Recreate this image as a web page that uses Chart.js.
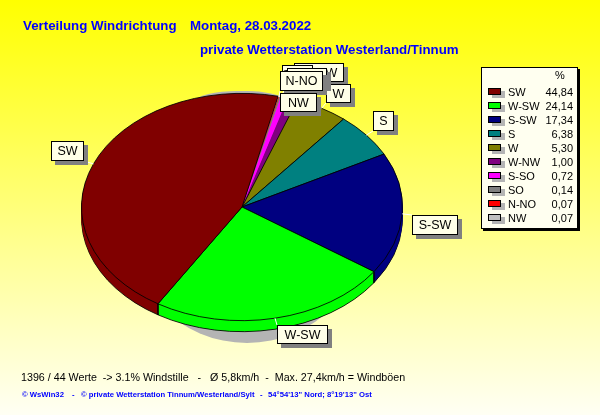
<!DOCTYPE html>
<html>
<head>
<meta charset="utf-8">
<style>
  html, body { margin: 0; padding: 0; background: #fff; }
  canvas { display: block; }
</style>
<script src="https://cdn.jsdelivr.net/npm/chart.js@4"></script>
</head>
<body>
<canvas id="wind-chart" width="600" height="415"></canvas>
<script>
// Chart data, in legend order
const directions = ['SW', 'W-SW', 'S-SW', 'S', 'W', 'W-NW', 'S-SO', 'SO', 'N-NO', 'NW'];
const percentages = [44.84, 24.14, 17.34, 6.38, 5.30, 1.00, 0.72, 0.14, 0.07, 0.07];
const percentLabels = ['44,84', '24,14', '17,34', '6,38', '5,30', '1,00', '0,72', '0,14', '0,07', '0,07'];
const sliceColors = ['#800000', '#00ff00', '#000080', '#008080', '#808000', '#800080', '#ff00ff', '#808080', '#ff0000', '#c0c0c0'];
// the thin slices would be all black with an outline
const sliceBorders = [1, 1, 1, 1, 1, 0, 0, 0, 0, 0];

// Texts
const titleLeft = 'Verteilung Windrichtung';
const titleDate = 'Montag, 28.03.2022';
const titleLine2 = 'private Wetterstation Westerland/Tinnum';
const statsLine = '1396 / 44 Werte  -> 3.1% Windstille   -   Ø 5,8km/h  -  Max. 27,4km/h = Windböen';
const creditParts = [
  { text: '© WsWin32', x: 22 },
  { text: '-', x: 72 },
  { text: '© private Wetterstation Tinnum/Westerland/Sylt', x: 81 },
  { text: '-', x: 260 },
  { text: '54°54\'13" Nord; 8°19\'13" Ost', x: 268 }
];

// Callout boxes, back to front (x, y, w, h in page pixels)
const callouts = [
  { name: 'W-NW', x: 294, y: 63, w: 50, h: 19 },
  { name: 'S-SO', x: 282, y: 65, w: 31, h: 19 },
  { name: 'W', x: 326, y: 84, w: 25, h: 19 },
  { name: 'SO', x: 287, y: 68, w: 40, h: 19 },
  { name: 'N-NO', x: 280, y: 71, w: 43, h: 20 },
  { name: 'NW', x: 280, y: 93, w: 37, h: 19 },
  { name: 'S', x: 373, y: 111, w: 21, h: 20 },
  { name: 'S-SW', x: 412, y: 215, w: 46, h: 20 },
  { name: 'W-SW', x: 277, y: 325, w: 51, h: 19 },
  { name: 'SW', x: 51, y: 141, w: 33, h: 20 }
];

const FONT = '"Liberation Sans", Arial, sans-serif';
const squash = 114 / 161;  // the pie is tilted, so its height is squeezed
const depth = 11;

// The library goes clockwise from the start angle, the original goes the other way
const drawOrder = directions.map((_, i) => directions.length - 1 - i);

function withoutBorder(arc, ctx) {
  const saved = arc.options;
  arc.options = Object.assign({}, saved, { borderWidth: 0 });
  arc.draw(ctx);
  arc.options = saved;
}

function tiltTo(ctx, cy, offset) {
  ctx.translate(0, cy + offset);
  ctx.scale(1, squash);
  ctx.translate(0, -cy);
}

const pageDecor = {
  id: 'pageDecor',
  beforeDraw(chart) {
    const { ctx, width, height } = chart;
    const bg = ctx.createLinearGradient(0, 0, 0, height);
    bg.addColorStop(0, '#ffff00');
    bg.addColorStop(1, '#fffff4');
    ctx.fillStyle = bg;
    ctx.fillRect(0, 0, width, height);

    ctx.textBaseline = 'alphabetic';
    ctx.textAlign = 'left';
    ctx.fillStyle = '#0000ff';
    ctx.font = 'bold 13.3px ' + FONT;
    ctx.fillText(titleLeft, 23, 30);
    ctx.fillText(titleDate, 190, 30);
    ctx.fillText(titleLine2, 200, 54);
    ctx.fillStyle = '#000';
    ctx.font = '10.7px ' + FONT;
    ctx.fillText(statsLine, 21, 381);
    ctx.fillStyle = '#0000ff';
    ctx.font = 'bold 7.7px ' + FONT;
    creditParts.forEach(part => ctx.fillText(part.text, part.x, 397));
  },
  // shadow and rim go under the pie, then the face is drawn tilted by the library
  beforeDatasetsDraw(chart) {
    const { ctx } = chart;
    const arcs = chart.getDatasetMeta(0).data;
    const cx = arcs[0].x, cy = arcs[0].y, r = arcs[0].outerRadius;

    ctx.fillStyle = '#b4b4b4';
    ctx.beginPath();
    ctx.ellipse(247, 217, 123, 126, 0, 0, Math.PI * 2);
    ctx.fill();
    ctx.beginPath();
    ctx.ellipse(238, 101, 42, 10, 0, 0, Math.PI * 2);
    ctx.fill();

    ctx.save();
    tiltTo(ctx, cy, depth);
    arcs.forEach(a => a.draw(ctx));
    ctx.restore();
    for (let d = depth - 1; d > 0; d--) {
      ctx.save();
      tiltTo(ctx, cy, d);
      arcs.forEach(a => withoutBorder(a, ctx));
      ctx.restore();
    }
    // upright edges where slices meet on the front of the pie
    ctx.strokeStyle = '#000';
    ctx.lineWidth = 1;
    arcs.forEach(a => {
      [a.startAngle, a.endAngle].forEach(angle => {
        if (Math.sin(angle) <= 0) return;
        const px = cx + r * Math.cos(angle);
        const py = cy + r * squash * Math.sin(angle);
        ctx.beginPath();
        ctx.moveTo(px, py);
        ctx.lineTo(px, py + depth);
        ctx.stroke();
      });
    });

    ctx.save();
    tiltTo(ctx, cy, 0);
  },
  afterDatasetsDraw(chart) {
    const { ctx } = chart;
    ctx.restore();
    const arcs = chart.getDatasetMeta(0).data;
    const cx = arcs[0].x, cy = arcs[0].y;

    // callouts with their white leader lines
    ctx.font = '12.5px ' + FONT;
    ctx.textAlign = 'center';
    ctx.textBaseline = 'middle';
    callouts.forEach(box => {
      const a = arcs[drawOrder[directions.indexOf(box.name)]];
      const mid = (a.startAngle + a.endAngle) / 2;
      const px = cx + a.outerRadius * Math.cos(mid);
      const py = cy + a.outerRadius * squash * Math.sin(mid);
      ctx.strokeStyle = '#fff';
      ctx.lineWidth = 1;
      ctx.beginPath();
      ctx.moveTo(px, py);
      ctx.lineTo(Math.min(Math.max(px, box.x), box.x + box.w), Math.min(Math.max(py, box.y), box.y + box.h));
      ctx.stroke();

      ctx.fillStyle = '#808080';
      ctx.fillRect(box.x + 4, box.y + 4, box.w, box.h);
      ctx.fillStyle = '#ffffe8';
      ctx.fillRect(box.x, box.y, box.w, box.h);
      ctx.strokeStyle = '#000';
      ctx.strokeRect(box.x + 0.5, box.y + 0.5, box.w - 1, box.h - 1);
      ctx.fillStyle = '#000';
      ctx.fillText(box.name, box.x + box.w / 2, box.y + box.h / 2 + 1);
    });

    // legend panel
    ctx.fillStyle = '#000';
    ctx.fillRect(483, 69, 97, 162);
    ctx.fillStyle = '#fffff0';
    ctx.fillRect(481, 67, 97, 162);
    ctx.strokeStyle = '#000';
    ctx.strokeRect(481.5, 67.5, 96, 161);
    ctx.font = '11px ' + FONT;
    ctx.textBaseline = 'middle';
    ctx.fillStyle = '#000';
    ctx.textAlign = 'center';
    ctx.fillText('%', 560, 76);
    directions.forEach((name, i) => {
      const y = 92 + i * 14;
      ctx.fillStyle = '#b4b4b4';
      ctx.fillRect(492, y - 1, 13, 7);
      ctx.fillStyle = sliceColors[i];
      ctx.fillRect(488, y - 4, 13, 7);
      ctx.strokeStyle = '#000';
      ctx.strokeRect(488.5, y - 3.5, 12, 6);
      ctx.fillStyle = '#000';
      ctx.textAlign = 'left';
      ctx.fillText(name, 508, y + 1);
      ctx.textAlign = 'right';
      ctx.fillText(percentLabels[i], 573, y + 1);
    });
  }
};

new Chart(document.getElementById('wind-chart'), {
  type: 'pie',
  data: {
    labels: drawOrder.map(i => directions[i]),
    datasets: [{
      data: drawOrder.map(i => percentages[i]),
      backgroundColor: drawOrder.map(i => sliceColors[i]),
      borderColor: '#000',
      borderWidth: drawOrder.map(i => sliceBorders[i])
    }]
  },
  options: {
    responsive: false,
    animation: false,
    rotation: 13,
    layout: { padding: { left: 81, right: 197, top: 46, bottom: 47 } },
    plugins: { legend: { display: false }, tooltip: { enabled: false } },
    events: []
  },
  plugins: [pageDecor]
});
</script>
</body>
</html>
